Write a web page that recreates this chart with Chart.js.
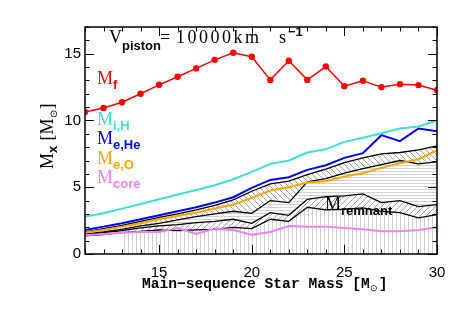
<!DOCTYPE html>
<html>
<head>
<meta charset="utf-8">
<script src="https://cdn.jsdelivr.net/npm/chart.js@4.4.1/dist/chart.umd.min.js"></script>
<style>
  html, body { margin: 0; padding: 0; background: #fff; }
  canvas { display: block; }
</style>
</head>
<body>
<canvas id="c" width="463" height="309"></canvas>
<script>
// 主系列星質量ごとの各種質量（読み取り値）
const masses  = [11, 12, 13, 14, 15, 16, 17, 18, 19, 20, 21, 22, 23, 24, 25, 26, 27, 28, 29, 30];
const mFinal  = [10.64, 10.94, 11.37, 12.0, 12.67, 13.27, 13.9, 14.54, 15.07, 14.77, 13.04, 14.47, 13.04, 14.04, 12.57, 12.97, 12.5, 12.72, 12.65, 12.27];
const mIH     = [2.8, 3.05, 3.4, 3.75, 4.1, 4.45, 4.8, 5.15, 5.6, 6.15, 6.75, 7.0, 7.6, 7.85, 8.4, 8.7, 9.05, 9.4, 9.55, 10.0];
const mEHe    = [1.8, 2.05, 2.3, 2.6, 2.9, 3.2, 3.5, 3.85, 4.25, 4.95, 5.55, 5.75, 6.3, 6.65, 7.2, 7.55, 8.9, 8.45, 9.4, 9.2];
const mEO     = [1.6, 1.8, 2.05, 2.3, 2.6, 2.85, 3.1, 3.4, 3.7, 4.2, 4.75, 5.0, 5.35, 5.45, 5.8, 6.05, 6.45, 6.8, 7.1, 7.75];
const mCore   = [1.4, 1.5, 1.6, 1.65, 1.65, 1.95, 1.5, 1.9, 1.8, 1.45, 1.65, 2.1, 2.05, 2.05, 1.95, 1.85, 1.7, 1.7, 1.8, 2.0];
// 上側バンド（斜線）と下側バンド = M_remnant
const upperHi = [1.65, 1.9, 2.15, 2.45, 2.75, 3.0, 3.3, 3.65, 4.05, 4.7, 5.25, 5.45, 5.95, 6.35, 6.85, 7.2, 7.5, 7.6, 7.8, 8.1];
const upperLo = [1.5, 1.65, 1.85, 2.1, 2.3, 2.55, 2.8, 3.0, 3.2, 3.05, 4.0, 3.85, 5.4, 5.65, 6.05, 6.4, 6.7, 7.0, 6.75, 6.9];
const remHi   = [1.45, 1.6, 1.75, 1.95, 2.1, 2.2, 2.35, 2.45, 2.6, 2.3, 3.1, 2.9, 4.1, 4.3, 4.35, 4.5, 3.85, 4.0, 3.55, 3.7];
const remLo   = [1.35, 1.45, 1.6, 1.7, 1.8, 1.75, 1.8, 1.85, 2.0, 1.9, 2.6, 2.45, 3.5, 3.3, 3.35, 3.45, 3.2, 3.1, 2.7, 2.95];
const vertHatchFrom = 13;

const xTickValues = [15, 20, 25, 30];
const yTickValues = [0, 5, 10, 15];
const xRange = [11, 30];
const yRange = [0, 17];

const SERIF = '"Liberation Serif", "Times New Roman", serif';
const SANS  = '"Liberation Sans", Arial, sans-serif';
const MONO  = '"Liberation Mono", "Courier New", monospace';

const canvas = document.getElementById('c');
const ctx0 = canvas.getContext('2d');

// ハッチング用のパターンを作る
function makePattern(kind, color) {
  const s = kind === 'h' ? 3 : kind === 'v' ? 4 : 6;
  const t = document.createElement('canvas');
  t.width = s; t.height = s;
  const g = t.getContext('2d');
  g.strokeStyle = color;
  g.lineWidth = 1;
  g.beginPath();
  if (kind === 'h') { g.moveTo(0, 0.5); g.lineTo(s, 0.5); }
  else if (kind === 'v') { g.moveTo(0.5, 0); g.lineTo(0.5, s); }
  else if (kind === '/') {
    g.moveTo(0, s); g.lineTo(s, 0);
    g.moveTo(-1, 1); g.lineTo(1, -1);
    g.moveTo(s - 1, s + 1); g.lineTo(s + 1, s - 1);
  } else {
    g.moveTo(0, 0); g.lineTo(s, s);
    g.moveTo(-1, s - 1); g.lineTo(1, s + 1);
    g.moveTo(s - 1, -1); g.lineTo(s + 1, 1);
  }
  g.stroke();
  return ctx0.createPattern(t, 'repeat');
}

const toPts = (arr) => masses.map((m, i) => ({ x: m, y: arr[i] }));

const line = (label, arr, color, width, extra = {}) => ({
  label, data: toPts(arr), borderColor: color, borderWidth: width,
  pointRadius: 0, fill: false, tension: 0, order: 1, ...extra,
});

const datasets = [
  line('Mf', mFinal, '#ff0000', 1.5, { pointRadius: 3.2, pointBackgroundColor: '#ff0000', pointBorderWidth: 0, order: 0 }),
  line('MiH', mIH, '#40e0d0', 2),
  line('MeHe', mEHe, '#0000ff', 2),
  line('MeO', mEO, '#ffa500', 2),
  line('Mcore', mCore, '#ee82ee', 2),
  line('upperHi', upperHi, '#000', 1.3, { order: 2, fill: { target: 6 }, backgroundColor: makePattern('\\', '#a0a0a0') }),
  line('upperLo', upperLo, '#000', 1.3, { order: 2, fill: { target: 7 }, backgroundColor: makePattern('h', '#d2d2d2') }),
  line('remHi', remHi, '#000', 1.3, { order: 2, fill: { target: 8 }, backgroundColor: makePattern('/', '#a0a0a0') }),
  line('remLo', remLo, '#000', 1.3, { order: 2 }),
  {
    label: 'vert',
    data: masses.map((m, i) => ({ x: m, y: m >= vertHatchFrom ? remLo[i] : null })),
    borderWidth: 0, pointRadius: 0, fill: 'origin', order: 3,
    backgroundColor: makePattern('v', '#d0d0d0'),
  },
];

// 文字 + 下付き文字
function subText(ctx, x, y, main, sub, color, mainFont, subFont, dy) {
  ctx.fillStyle = color;
  ctx.font = mainFont;
  ctx.fillText(main, x, y);
  const w = ctx.measureText(main).width;
  ctx.font = subFont;
  ctx.fillText(sub, x + w, y + dy);
}

function spaced(ctx, text, x, y, gap) {
  for (const ch of text) {
    ctx.fillText(ch, x, y);
    x += ctx.measureText(ch).width + gap;
  }
  return x;
}

const decorations = {
  id: 'decorations',
  afterDraw(chart) {
    const { ctx, chartArea: a, scales: { x, y } } = chart;
    ctx.save();
    ctx.strokeStyle = '#000';
    ctx.lineWidth = 1.5;
    ctx.strokeRect(a.left, a.top, a.right - a.left, a.bottom - a.top);

    // 内向きの目盛り（四辺）
    ctx.lineWidth = 1;
    ctx.beginPath();
    for (let v = xRange[0]; v <= xRange[1]; v++) {
      const px = Math.round(x.getPixelForValue(v)) + 0.5;
      const len = v % 5 === 0 ? 9 : 4.5;
      ctx.moveTo(px, a.bottom); ctx.lineTo(px, a.bottom - len);
      ctx.moveTo(px, a.top); ctx.lineTo(px, a.top + len);
    }
    for (let v = yRange[0]; v <= yRange[1]; v++) {
      const py = Math.round(y.getPixelForValue(v)) + 0.5;
      const len = v % 5 === 0 ? 9 : 4.5;
      ctx.moveTo(a.left, py); ctx.lineTo(a.left + len, py);
      ctx.moveTo(a.right, py); ctx.lineTo(a.right - len, py);
    }
    ctx.stroke();

    const big = `18px ${SERIF}`;
    const small = `bold 13px ${SANS}`;
    ctx.textBaseline = 'alphabetic';
    ctx.textAlign = 'left';

    // タイトル
    subText(ctx, 109, 43, 'V', 'piston', '#000', big, small, 6.5);
    ctx.font = big;
    ctx.fillText('=', 160, 43);
    spaced(ctx, '10000km', 176, 43, 2.5);
    ctx.fillText('s', 279, 43);
    ctx.font = small;
    ctx.fillText('\u22121', 288, 36);

    // 系列ラベル
    subText(ctx, 97, 84, 'M', 'f', '#ff0000', big, small, 5);
    subText(ctx, 97, 125, 'M', 'i,H', '#40e0d0', big, small, 5);
    subText(ctx, 97, 144, 'M', 'e,He', '#0000ff', big, small, 5);
    subText(ctx, 97, 164, 'M', 'e,O', '#ffa500', big, small, 5);
    subText(ctx, 97, 183, 'M', 'core', '#ee82ee', big, small, 5);
    subText(ctx, 325, 210, 'M', 'remnant', '#000', big, small, 5);

    // x 軸タイトル
    ctx.fillStyle = '#000';
    ctx.font = `bold 14.6px ${MONO}`;
    const xt = 'Main\u2212sequence Star Mass [M';
    ctx.fillText(xt, 142, 288);
    let xe = 142 + ctx.measureText(xt).width;
    ctx.font = `9px ${SANS}`;
    ctx.fillText('\u2299', xe, 291);
    xe += ctx.measureText('\u2299').width + 1;
    ctx.font = `bold 14.6px ${MONO}`;
    ctx.fillText(']', xe, 288);

    // y 軸タイトル（回転）
    ctx.translate(53, 169);
    ctx.rotate(-Math.PI / 2);
    subText(ctx, 0, 0, 'M', 'x', '#000', big, small, 4);
    ctx.font = big;
    let yx = ctx.measureText('M').width + 8;
    ctx.fillText(' [M', yx, 0);
    yx += ctx.measureText(' [M').width;
    ctx.font = `10px ${SANS}`;
    ctx.fillText('\u2299', yx, 4);
    yx += ctx.measureText('\u2299').width + 1;
    ctx.font = big;
    ctx.fillText(']', yx, 0);
    ctx.restore();
  },
};

new Chart(canvas, {
  type: 'line',
  data: { datasets },
  plugins: [decorations],
  options: {
    responsive: false,
    animation: false,
    devicePixelRatio: 1,
    layout: { padding: { top: 27, right: 26, left: 0, bottom: 0 } },
    plugins: {
      legend: { display: false },
      tooltip: { enabled: false },
      filler: { drawTime: 'beforeDatasetsDraw' },
    },
    scales: {
      x: {
        type: 'linear', min: xRange[0], max: xRange[1],
        grid: { display: false, drawTicks: false },
        border: { display: false },
        afterBuildTicks: (s) => { s.ticks = xTickValues.map((v) => ({ value: v })); },
        afterFit: (s) => { s.height = 55; },
        ticks: { color: '#000', padding: 10, maxRotation: 0, font: { family: SANS, size: 15 } },
      },
      y: {
        type: 'linear', min: yRange[0], max: yRange[1],
        grid: { display: false, drawTicks: false },
        border: { display: false },
        afterBuildTicks: (s) => { s.ticks = yTickValues.map((v) => ({ value: v })); },
        afterFit: (s) => { s.width = 85; },
        ticks: { color: '#000', padding: 4, font: { family: SANS, size: 15 } },
      },
    },
  },
});
</script>
</body>
</html>
